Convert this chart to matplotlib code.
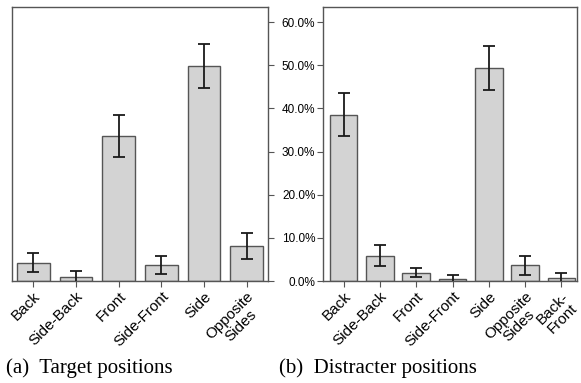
import matplotlib
matplotlib.use("Agg")
import matplotlib.pyplot as plt
import numpy as np

plt.rcParams['font.family'] = ['Liberation Sans', 'DejaVu Sans']

# percentages of trials per position, with 95% error bars
target_labels = ["Back", "Side-Back", "Front", "Side-Front", "Side", "Opposite\nSides"]
target_pct = [4.2, 1.0, 33.6, 3.7, 49.8, 8.2]
target_err = [2.2, 1.4, 4.9, 2.0, 5.1, 3.0]

distracter_labels = ["Back", "Side-Back", "Front", "Side-Front", "Side", "Opposite\nSides", "Back-\nFront"]
distracter_pct = [38.5, 5.9, 1.9, 0.4, 49.4, 3.6, 0.6]
distracter_err = [5.0, 2.4, 1.0, 0.9, 5.1, 2.3, 1.3]

yticks = [0, 10, 20, 30, 40, 50, 60]

fig = plt.figure(figsize=(5.81, 3.83), dpi=100)
ax1 = fig.add_axes([12/581, 102/383, 256/581, 274/383])
ax2 = fig.add_axes([323/581, 102/383, 254/581, 274/383])

edge = "#555555"

def draw(ax, labels, pct, err, xlim):
    x = np.arange(len(labels))
    ax.bar(x, pct, width=0.76, color="#d3d3d3", edgecolor=edge, linewidth=1.0, zorder=2)
    ax.errorbar(x, pct, yerr=err, fmt="none", ecolor="#1a1a1a", elinewidth=1.3,
                capsize=4, capthick=1.3, zorder=3)
    ax.set_xlim(*xlim)
    ax.set_ylim(0, 63.5)
    ax.set_xticks(x)
    ax.set_xticklabels(labels, rotation=45, ha="right", rotation_mode="anchor",
                       fontsize=11, linespacing=1.05, multialignment="center")
    ax.tick_params(axis="x", direction="out", length=4, color=edge, pad=2)
    for s in ax.spines.values():
        s.set_color(edge)
        s.set_linewidth(1.0)

draw(ax1, target_labels, target_pct, target_err, (-0.5, 5.5))
draw(ax2, distracter_labels, distracter_pct, distracter_err, (-0.57, 6.43))

# left panel: tick marks on the right edge, no labels
ax1.yaxis.tick_right()
ax1.set_yticks(yticks)
ax1.set_yticklabels([])
ax1.tick_params(axis="y", direction="out", length=4, color=edge)

# right panel carries the shared percentage labels
ax2.set_yticks(yticks)
ax2.set_yticklabels(["%.1f%%" % v for v in yticks], fontsize=8.5)
ax2.tick_params(axis="y", direction="out", length=4, color=edge, pad=1.5)

fig.text(6/581, 1 - 368/383, "(a)  Target positions", family="Liberation Serif",
         fontsize=15, va="center", ha="left")
fig.text(279/581, 1 - 368/383, "(b)  Distracter positions", family="Liberation Serif",
         fontsize=15, va="center", ha="left")

fig.savefig("out.png", dpi=100)
